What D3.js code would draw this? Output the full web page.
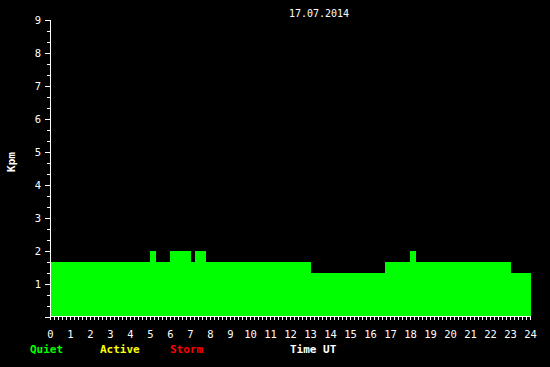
<!DOCTYPE html>
<html>
<head>
<meta charset="utf-8">
<script src="https://cdn.jsdelivr.net/npm/d3@7"></script>
<style>
  html, body { margin: 0; padding: 0; background: #000; }
  svg { display: block; }
  text { font-family: "DejaVu Sans Mono", monospace; fill: #fff; }
</style>
</head>
<body>
<svg id="chart" width="550" height="367"></svg>
<script>
// Kpm steps for 17.07.2014, hours UT
var startHours = [0, 5.0, 5.3, 6.0, 7.03, 7.25, 7.8, 13.05, 16.75, 18.0, 18.3, 23.05];
var endHours   = [5.0, 5.3, 6.0, 7.03, 7.25, 7.8, 13.05, 16.75, 18.0, 18.3, 23.05, 24.05];
var kpmValues  = [1.67, 2, 1.67, 2, 1.67, 2, 1.67, 1.33, 1.67, 2, 1.67, 1.33];

var hourLabels = d3.range(0, 25);
var kpLabels = d3.range(1, 10);
var legendNames = ["Quiet", "Active", "Storm"];
var legendColors = ["#00ff00", "#ffff00", "#ff0000"];

var svg = d3.select("#chart");

svg.append("rect")
  .attr("width", 550)
  .attr("height", 367)
  .style("fill", "#000");

var x = d3.scaleLinear().domain([0, 24]).range([50, 530]);
var y = d3.scaleLinear().domain([0, 9]).range([317, 20]);

function levelColor(v) {
  if (v >= 5) return legendColors[2];
  if (v >= 4) return legendColors[1];
  return legendColors[0];
}

// bars
svg.append("g")
  .selectAll("rect")
  .data(kpmValues)
  .enter()
  .append("rect")
  .attr("x", function (d, i) { return x(startHours[i]); })
  .attr("width", function (d, i) { return x(endHours[i]) - x(startHours[i]); })
  .attr("y", function (d) { return y(d); })
  .attr("height", function (d) { return y(0) - y(d); })
  .attr("shape-rendering", "crispEdges")
  .style("fill", levelColor);

// x axis, ticks every 12 minutes
var xTicks = d3.range(0, 24 * 5 + 1).map(function (i) { return i / 5; });
var xAxis = d3.axisBottom(x)
  .tickValues(xTicks)
  .tickSizeOuter(0)
  .tickSize(4)
  .tickFormat(function (d) { return Number.isInteger(d) ? d : ""; });

var gx = svg.append("g")
  .attr("transform", "translate(0,316)")
  .call(xAxis);

// y axis, ticks every 1/3 Kp
var yTicks = d3.range(0, 28).map(function (i) { return i / 3; });
var yAxis = d3.axisLeft(y)
  .tickValues(yTicks)
  .tickSizeOuter(0)
  .tickSize(3)
  .tickFormat(function (d, i) { return (i % 3 === 0 && i > 0) ? Math.round(d) : ""; });

var gy = svg.append("g")
  .attr("transform", "translate(50,0)")
  .call(yAxis);

gy.selectAll(".tick line")
  .attr("x2", function (d, i) { return i % 3 === 0 ? -5 : -3; });

[gx, gy].forEach(function (g) {
  g.attr("shape-rendering", "crispEdges");
  g.selectAll("path, line").style("stroke", "#fff");
  g.selectAll("text")
    .style("fill", "#fff")
    .style("font-family", "'DejaVu Sans Mono', monospace")
    .style("font-size", "10.5px");
});

gx.selectAll(".tick text").attr("y", 15);
gy.selectAll(".tick text").attr("x", -9);

// title
svg.append("text")
  .attr("x", 319)
  .attr("y", 17)
  .attr("text-anchor", "middle")
  .style("font-size", "10px")
  .text("17.07.2014");

// y label
svg.append("text")
  .attr("transform", "translate(15,162) rotate(-90)")
  .attr("text-anchor", "middle")
  .style("font-size", "11px")
  .style("font-weight", "bold")
  .text("Kpm");

// legend
var legend = svg.append("g").attr("class", "legend");
legend.selectAll("text")
  .data(legendNames)
  .enter()
  .append("text")
  .attr("x", function (d, i) { return 30 + i * 70; })
  .attr("y", 353)
  .style("font-size", "11px")
  .style("font-weight", "bold")
  .style("fill", function (d, i) { return legendColors[i]; })
  .text(function (d) { return d; });

svg.append("text")
  .attr("x", 290)
  .attr("y", 353)
  .style("font-size", "11px")
  .style("font-weight", "bold")
  .text("Time UT");
</script>
</body>
</html>
